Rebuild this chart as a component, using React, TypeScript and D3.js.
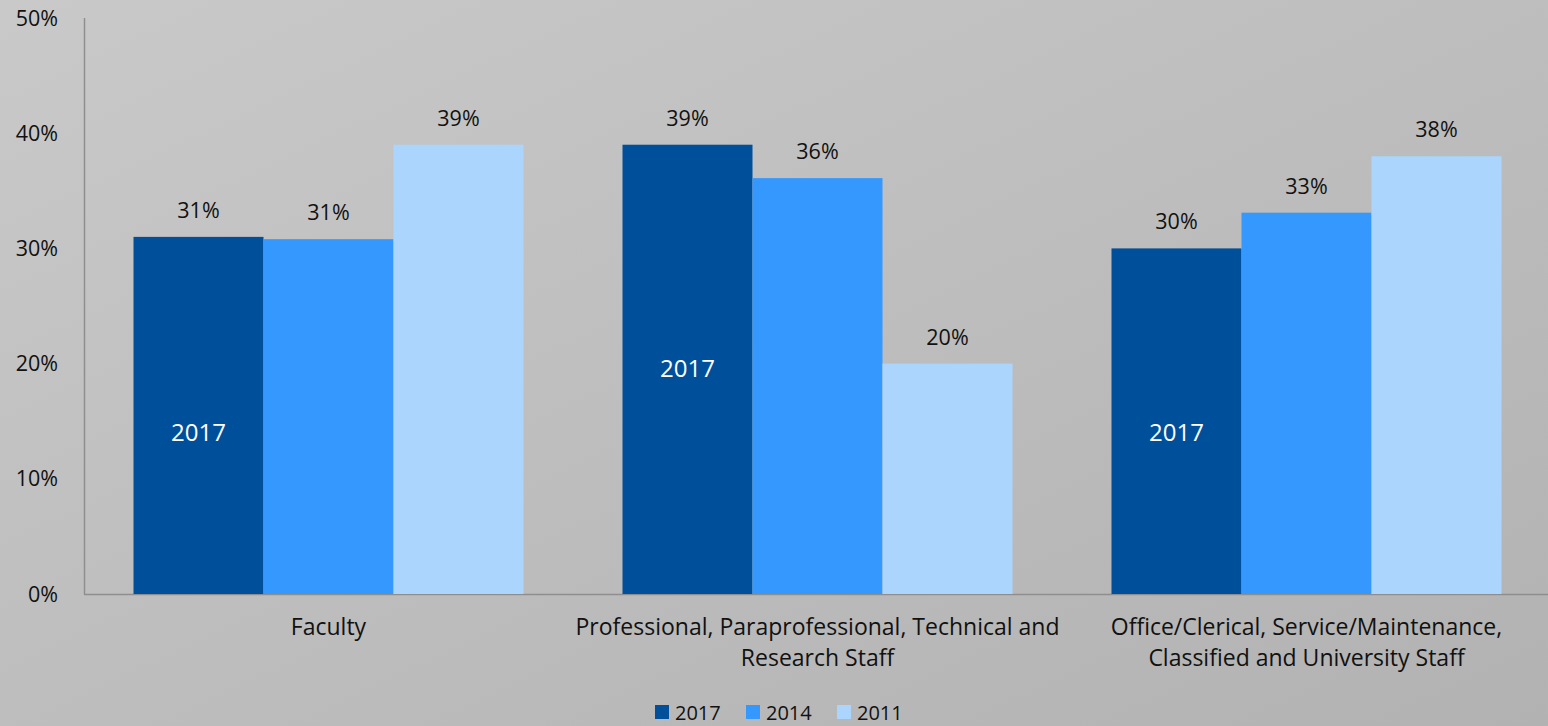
import React from 'react';
import * as d3 from 'd3';

const categories = [
  ['Faculty'],
  ['Professional, Paraprofessional, Technical and', 'Research Staff'],
  ['Office/Clerical, Service/Maintenance,', 'Classified and University Staff'],
];
const seriesNames = ['2017', '2014', '2011'];
const series2017 = [31, 39, 30];
const series2014 = [30.8, 36.1, 33.1];
const series2011 = [39, 20, 38];
const valueLabels2017 = ['31%', '39%', '30%'];
const valueLabels2014 = ['31%', '36%', '33%'];
const valueLabels2011 = ['39%', '20%', '38%'];
const insideNote = '2017';
const insideNoteLevel = [14, 19.6, 14];
const yTicks = [0, 10, 20, 30, 40, 50];
const colors = ['#004f9b', '#3598fe', '#abd5fc'];

const W = 1548;
const H = 726;
const FONT = '"Open Sans", sans-serif';

export default function App() {
  const x0 = d3.scaleBand<number>().domain([0, 1, 2]).range([84, 84 + 489 * 3]);
  const y = d3.scaleLinear().domain([0, 50]).range([594, 18]);

  const values = [series2017, series2014, series2011];
  const labels = [valueLabels2017, valueLabels2014, valueLabels2011];

  // bar width 130 inside a 489 band
  const barW = 130;
  const barX = (ci: number, si: number) => x0(ci)! + (x0.bandwidth() - barW * 3) / 2 + si * barW;

  return (
    <svg width={W} height={H} style={{ position: 'absolute', left: 0, top: 0 }} fontFamily={FONT}>
      <defs>
        <linearGradient id="bg" x1="0" y1="0" x2="1" y2="1">
          <stop offset="0%" stopColor="#c9c9c9" />
          <stop offset="100%" stopColor="#b2b2b2" />
        </linearGradient>
      </defs>
      <rect x={0} y={0} width={W} height={H} fill="url(#bg)" />

      {/* axes */}
      <line x1={84.5} x2={84.5} y1={18} y2={594} stroke="#8e8e8e" strokeWidth={1.5} />
      <line x1={84} x2={W} y1={594.5} y2={594.5} stroke="#8e8e8e" strokeWidth={1.5} />
      {yTicks.map((t) => (
        <text key={t} x={58} y={y(t)} dy="0.35em" textAnchor="end" fontSize={21.5} fill="#111">
          {t}%
        </text>
      ))}

      {/* bars */}
      {values.map((vals, si) =>
        vals.map((v, ci) => (
          <rect key={`${si}-${ci}`} x={barX(ci, si)} y={y(v)} width={barW} height={y(0) - y(v)} fill={colors[si]} />
        ))
      )}

      {/* value labels */}
      {values.map((vals, si) =>
        vals.map((v, ci) => (
          <text key={`l${si}-${ci}`} x={barX(ci, si) + barW / 2} y={y(v) - 19} textAnchor="middle" fontSize={21.5} fill="#111">
            {labels[si][ci]}
          </text>
        ))
      )}

      {/* 2017 notes in dark bars */}
      {insideNoteLevel.map((lv, ci) => (
        <text key={`n${ci}`} x={barX(ci, 0) + barW / 2} y={y(lv)} dy="0.35em" textAnchor="middle" fontSize={24} fill="#fff">
          {insideNote}
        </text>
      ))}

      {/* category labels */}
      {categories.map((lines, ci) =>
        lines.map((ln, li) => (
          <text key={`c${ci}-${li}`} x={x0(ci)! + x0.bandwidth() / 2} y={635 + li * 31} textAnchor="middle" fontSize={23} fill="#111">
            {ln}
          </text>
        ))
      )}

      {/* legend */}
      {seriesNames.map((s, i) => (
        <g key={s} transform={`translate(${655 + i * 91},705)`}>
          <rect x={0} y={0} width={14} height={14} fill={colors[i]} />
          <text x={20} y={15} fontSize={20} fill="#111">{s}</text>
        </g>
      ))}
    </svg>
  );
}
